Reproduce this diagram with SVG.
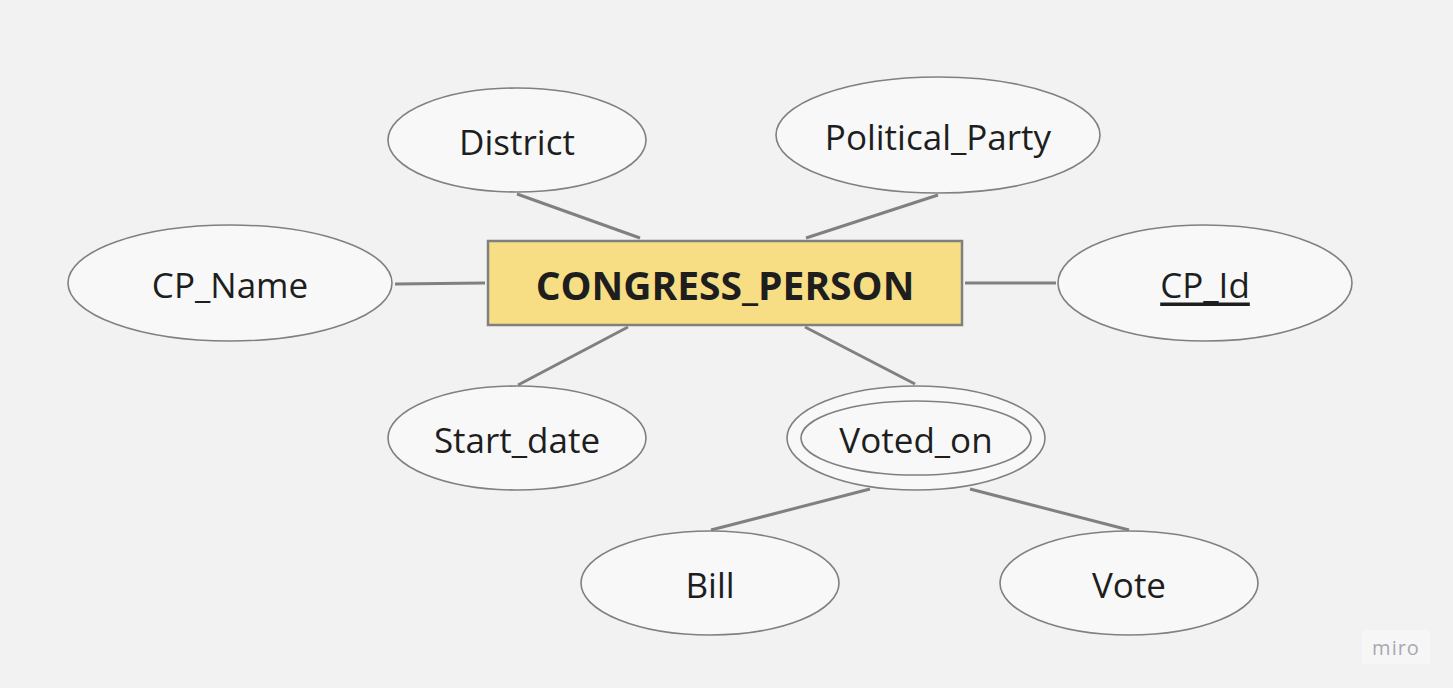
<svg xmlns="http://www.w3.org/2000/svg" width="1453" height="688" viewBox="0 0 1453 688">
<style>
.attr{fill:#f8f8f8;stroke:#808080;stroke-width:1.6}
.lbl{font-family:"Open Sans","Noto Sans",sans-serif;font-size:35px;fill:#1e1e1e;text-anchor:middle;dominant-baseline:central}
.conn line{stroke:#808080;stroke-width:3}
</style>
<rect width="1453" height="688" fill="#f2f2f2"/>
<g class="conn" id="connectors">
<line x1="517" y1="194" x2="640" y2="238"/>
<line x1="938" y1="195" x2="806" y2="238"/>
<line x1="395" y1="284" x2="485" y2="283"/>
<line x1="965" y1="283" x2="1056" y2="283"/>
<line x1="518" y1="385" x2="628" y2="327"/>
<line x1="805" y1="327" x2="915" y2="384"/>
<line x1="870" y1="489" x2="711" y2="530"/>
<line x1="970" y1="489" x2="1129" y2="530"/>
</g>
<g id="congress_person">
<rect x="488" y="241" width="474" height="84" fill="#f7de84" stroke="#808080" stroke-width="2.5"/>
<text x="725" y="284" class="lbl" style="font-weight:bold;font-size:39px">CONGRESS_PERSON</text>
</g>
<g id="district"><ellipse class="attr" cx="517" cy="140" rx="129" ry="52"/><text class="lbl" x="517" y="141">District</text></g>
<g id="political_party"><ellipse class="attr" cx="938" cy="135" rx="162" ry="58"/><text class="lbl" x="938" y="136">Political_Party</text></g>
<g id="cp_name"><ellipse class="attr" cx="230" cy="283" rx="162" ry="58"/><text class="lbl" x="230" y="284">CP_Name</text></g>
<g id="cp_id"><ellipse class="attr" cx="1205" cy="283" rx="147" ry="58"/><text class="lbl" x="1205" y="284" text-decoration="underline">CP_Id</text></g>
<g id="start_date"><ellipse class="attr" cx="517" cy="438" rx="129" ry="52"/><text class="lbl" x="517" y="439">Start_date</text></g>
<g id="voted_on"><ellipse class="attr" cx="916" cy="438" rx="129" ry="52"/><ellipse class="attr" cx="916" cy="438" rx="115" ry="37"/><text class="lbl" x="916" y="439">Voted_on</text></g>
<g id="bill"><ellipse class="attr" cx="710" cy="583" rx="129" ry="52"/><text class="lbl" x="710" y="584">Bill</text></g>
<g id="vote"><ellipse class="attr" cx="1129" cy="583" rx="129" ry="52"/><text class="lbl" x="1129" y="584">Vote</text></g>
<g id="watermark">
<rect x="1362" y="630" width="68" height="34" fill="#f6f6f6"/>
<text x="1396" y="647" style="font-family:'Open Sans',sans-serif;font-size:20px;fill:#a8a8b0;text-anchor:middle;dominant-baseline:central;letter-spacing:1px">miro</text>
</g>
</svg>
